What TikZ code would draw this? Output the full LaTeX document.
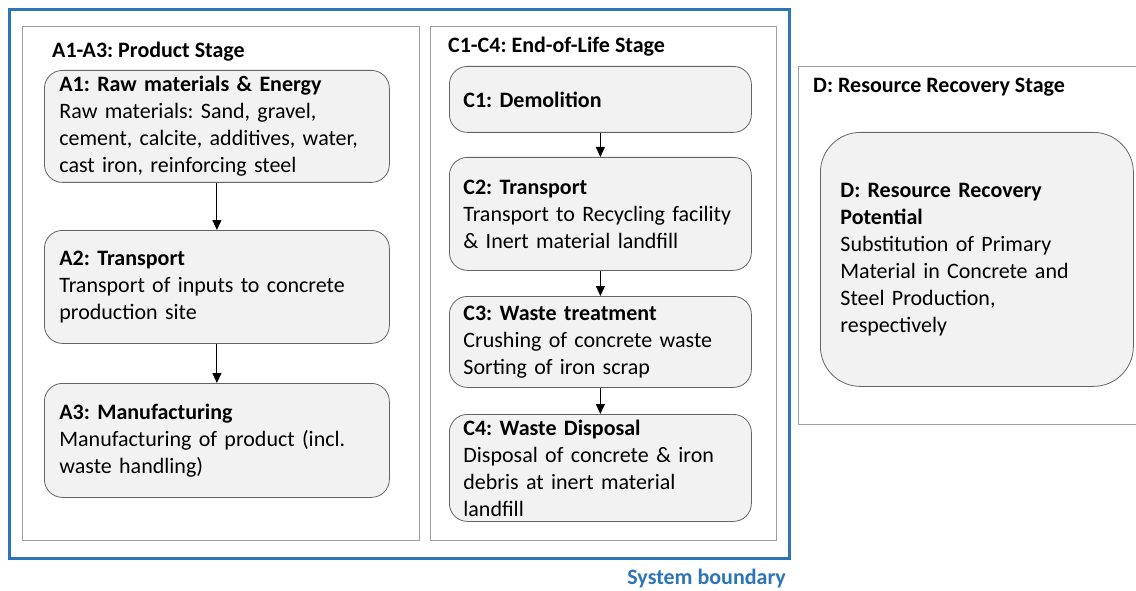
\documentclass[tikz,border=0pt]{standalone}
\usepackage{fontspec}
\setmainfont{Carlito}
\usetikzlibrary{arrows.meta,positioning}
\definecolor{sysblue}{RGB}{46,117,182}
\definecolor{boxgray}{RGB}{242,242,242}
\definecolor{linegray}{RGB}{100,100,100}
\tikzset{
	panel/.style={draw=gray!75, line width=0.9pt, anchor=north west, inner sep=0pt},
	stage/.style={draw=linegray, fill=boxgray, line width=0.8pt, rounded corners=18pt,
		anchor=north west, align=left, inner xsep=15pt, inner ysep=0pt},
	title/.style={anchor=west, font=\bfseries, inner sep=0pt},
	flow/.style={-{Triangle[width=9pt,length=10pt]}, line width=1.1pt}
}

\begin{document}
\fontsize{22}{27}\selectfont\frenchspacing
\begin{tikzpicture}[x=1pt, y=-1pt]
	\useasboundingbox (0,0) rectangle (1136,591);
	
	% system boundary and the three stage panels
	\node [panel, draw=sysblue, line width=3pt, minimum width=780pt, minimum height=549pt] (sys) at (8,8) {};
	\node [panel, minimum width=397pt, minimum height=514pt] (pa) at (22,26) {};
	\node [panel, minimum width=346pt, minimum height=514pt] (pc) at (430,26) {};
	\node [panel, minimum width=350pt, minimum height=358pt] (pd) at (798,66) {};
	
	\node [title] (ta) at (52,52) {A1-A3: Product Stage};
	\node [title] (tc) at (448,47) {C1-C4: End-of-Life Stage};
	\node [title] (td) at (813,87) {D: Resource Recovery Stage};
	\node [title, anchor=east, text=sysblue] (tsys) at (786,579) {System boundary};
	
	% product stage
	\node [stage, text width=315pt, minimum height=112pt] (a1) at (44,70)
	{\textbf{A1: Raw materials \& Energy}\\Raw materials: Sand, gravel,\\cement, calcite, additives, water,\\cast iron, reinforcing steel};
	\node [stage, text width=315pt, minimum height=113pt] (a2) at (44,230)
	{\textbf{A2: Transport}\\Transport of inputs to concrete\\production site};
	\node [stage, text width=315pt, minimum height=114pt] (a3) at (44,383)
	{\textbf{A3: Manufacturing}\\Manufacturing of product (incl.\\waste handling)};
	
	% end-of-life stage
	\node [stage, inner xsep=14pt, text width=274pt, minimum height=66pt] (c1) at (449,66)
	{\textbf{C1: Demolition}};
	\node [stage, inner xsep=14pt, text width=274pt, minimum height=113pt] (c2) at (449,157)
	{\textbf{C2: Transport}\\Transport to Recycling facility\\\& Inert material landfill};
	\node [stage, inner xsep=14pt, text width=274pt, minimum height=91pt] (c3) at (449,296)
	{\textbf{C3: Waste treatment}\\Crushing of concrete waste\\Sorting of iron scrap};
	\node [stage, inner xsep=14pt, text width=274pt, minimum height=107pt] (c4) at (449,414)
	{\textbf{C4: Waste Disposal}\\Disposal of concrete \& iron\\debris at inert material\\landfill};
	
	% resource recovery
	\node [stage, rounded corners=40pt, inner xsep=20pt, text width=273pt, minimum height=254pt] (d) at (820,132)
	{\textbf{D: Resource Recovery}\\\textbf{Potential}\\Substitution of Primary\\Material in Concrete and\\Steel Production,\\respectively};
	
	\draw [flow] (a1) -- (a2);
	\draw [flow] (a2) -- (a3);
	\draw [flow] (c1) -- (c2);
	\draw [flow] (c2) -- (c3);
	\draw [flow] (c3) -- (c4);
\end{tikzpicture}
\end{document}
